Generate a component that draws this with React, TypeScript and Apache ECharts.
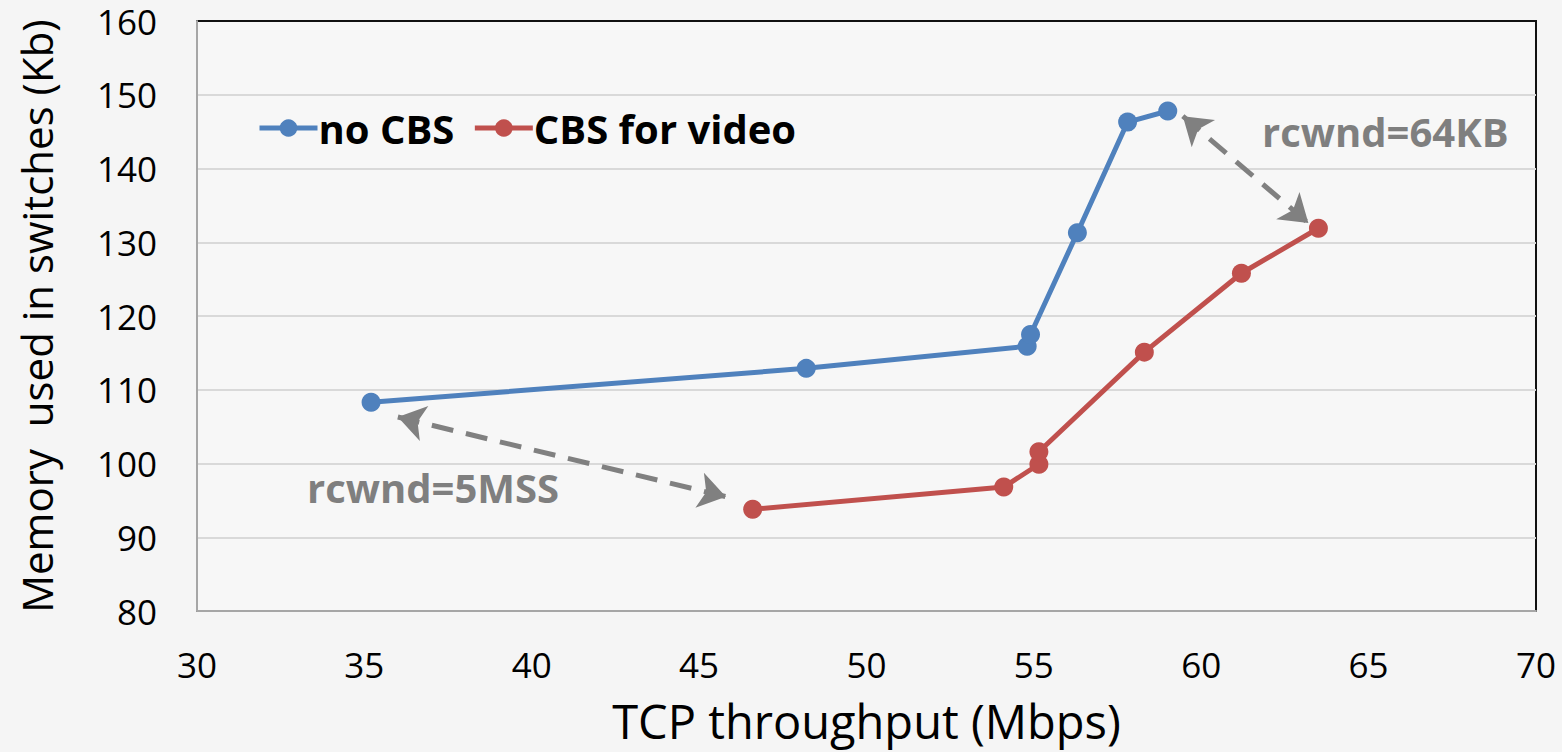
import React, { useEffect, useRef } from "react";
import * as echarts from "echarts";

const seriesNames = ["no CBS", "CBS for video"];
const xNoCBS = [35.2, 48.2, 54.8, 54.9, 56.3, 57.8, 59.0];
const yNoCBS = [108.3, 112.9, 115.9, 117.5, 131.3, 146.3, 147.8];
const xCBS = [46.6, 54.1, 55.15, 55.15, 58.3, 61.2, 63.5];
const yCBS = [93.8, 96.8, 99.9, 101.6, 115.1, 125.8, 131.9];
const arrowLow = [[36.0, 106.3], [45.8, 95.5]];
const arrowHigh = [[59.45, 147.1], [63.2, 132.6]];
const annotations = ["rcwnd=5MSS", "rcwnd=64KB"];
const xTitle = "TCP throughput (Mbps)";
const yTitle = "Memory  used in switches (Kb)";

const FONT = "'Open Sans', 'Noto Sans', sans-serif";

export default function App() {
  const ref = useRef<HTMLDivElement>(null);
  useEffect(() => {
    if (!ref.current) return;
    const chart = echarts.init(ref.current, null, { renderer: "svg" });
    const pairs = (xs: number[], ys: number[]) => xs.map((x, i) => [x, ys[i]]);
    const arrowStyle = {
      symbol: ["arrow", "arrow"],
      symbolSize: 27,
      silent: true,
      label: { show: false },
      lineStyle: { color: "#808080", width: 5, type: [22, 13] as any },
      emphasis: { disabled: true },
    };
    chart.setOption({
      animation: false,
      backgroundColor: "#f5f5f5",
      textStyle: { fontFamily: FONT },
      grid: {
        left: 197,
        right: 26,
        top: 21,
        bottom: 141,
        show: true,
        borderColor: "#111",
        borderWidth: 2,
        backgroundColor: "#f7f7f7",
      },
      legend: {
        left: 252,
        top: 103,
        itemWidth: 58,
        itemHeight: 22,
        itemGap: 18,
        lineStyle: { width: 5 },
        textStyle: { fontFamily: FONT, fontWeight: "bold", fontSize: 40, color: "#000", padding: [0, 0, 0, -4] },
        data: seriesNames,
      },
      xAxis: {
        type: "value",
        min: 30,
        max: 70,
        interval: 5,
        axisLine: { show: true, lineStyle: { color: "#a6a6a6", width: 2 } },
        axisTick: { show: false },
        splitLine: { show: false },
        axisLabel: { fontSize: 35, color: "#000", margin: 36, fontFamily: FONT },
        name: xTitle,
        nameLocation: "middle",
        nameGap: 86,
        nameTextStyle: { fontSize: 47, color: "#000", fontFamily: FONT },
      },
      yAxis: {
        type: "value",
        min: 80,
        max: 160,
        interval: 10,
        axisLine: { show: true, lineStyle: { color: "#a6a6a6", width: 2 } },
        axisTick: { show: false },
        splitLine: { show: true, showMaxLine: false, lineStyle: { color: "#d9d9d9", width: 2 } },
        axisLabel: { fontSize: 35, color: "#000", margin: 40, fontFamily: FONT },
        name: yTitle,
        nameLocation: "middle",
        nameGap: 140,
        nameTextStyle: { fontSize: 42, color: "#000", fontFamily: FONT },
      },
      series: [
        {
          name: seriesNames[0],
          type: "line",
          data: pairs(xNoCBS, yNoCBS),
          symbol: "circle",
          symbolSize: 19,
          lineStyle: { color: "#4f81bd", width: 5 },
          itemStyle: { color: "#4f81bd" },
          z: 3,
          markLine: { ...arrowStyle, data: [[{ coord: arrowLow[0] }, { coord: arrowLow[1] }]] },
        },
        {
          name: seriesNames[1],
          type: "line",
          data: pairs(xCBS, yCBS),
          symbol: "circle",
          symbolSize: 19,
          lineStyle: { color: "#c0504d", width: 5 },
          itemStyle: { color: "#c0504d" },
          z: 3,
          markLine: { ...arrowStyle, data: [[{ coord: arrowHigh[0] }, { coord: arrowHigh[1] }]] },
        },
      ],
      graphic: [
        {
          type: "text",
          x: 307,
          y: 487,
          style: { text: annotations[0], fill: "#7f7f7f", font: `bold 40px ${FONT}`, verticalAlign: "middle", align: "left" },
        },
        {
          type: "text",
          x: 1262,
          y: 131,
          style: { text: annotations[1], fill: "#7f7f7f", font: `bold 40px ${FONT}`, verticalAlign: "middle", align: "left" },
        },
      ],
    });
    return () => chart.dispose();
  }, []);
  return <div ref={ref} style={{ position: "fixed", left: 0, top: 0, width: 1562, height: 752 }} />;
}
